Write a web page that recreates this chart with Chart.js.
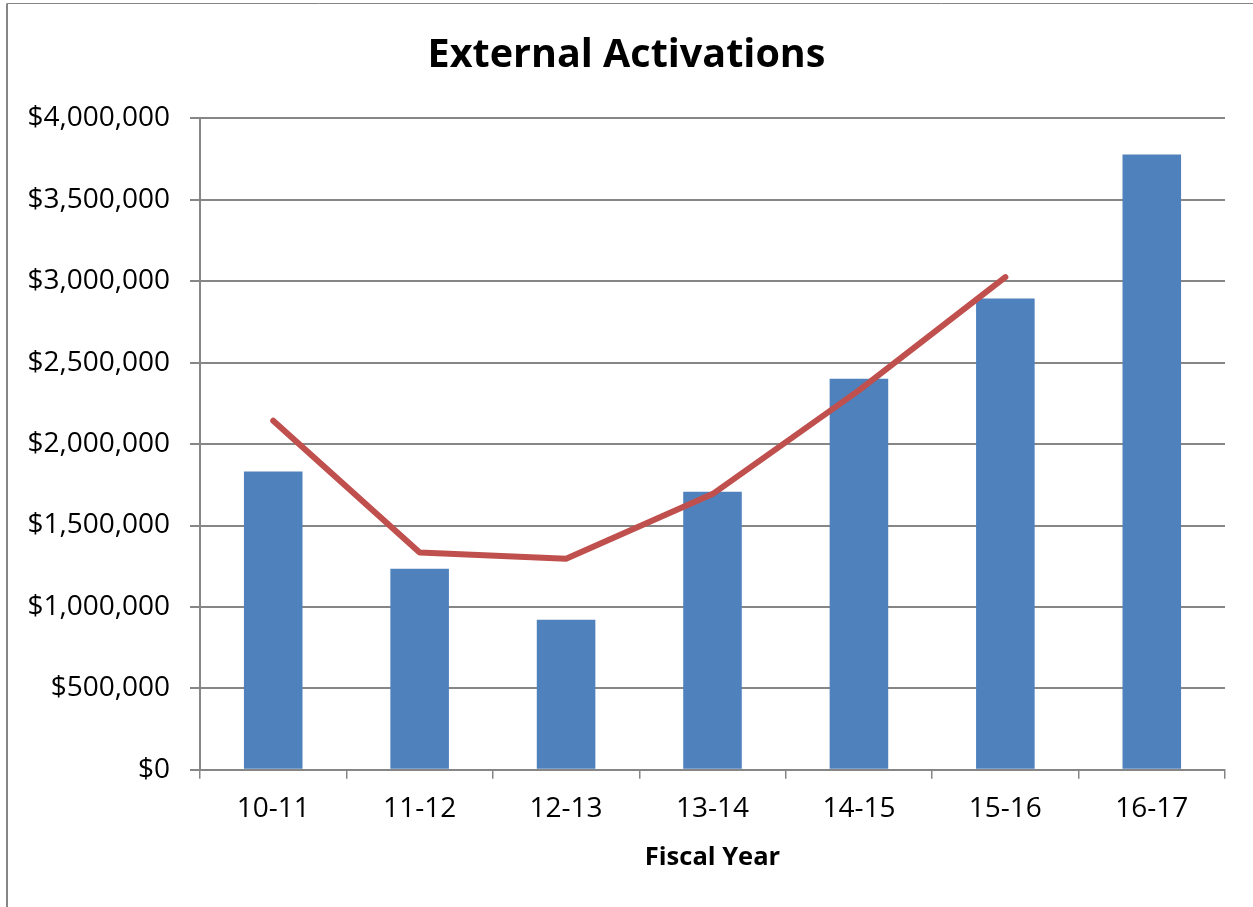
<!DOCTYPE html>
<html>
<head>
<meta charset="utf-8">
<script src="https://cdn.jsdelivr.net/npm/chart.js@4.4.1/dist/chart.umd.min.js"></script>
<style>
  html, body { margin: 0; padding: 0; background: #fff; }
  #wrap { width: 1253px; height: 907px; position: relative; }
</style>
</head>
<body>
<div id="wrap"><canvas id="grafico"></canvas></div>
<script>
// Dados
const anosFiscais = ['10-11', '11-12', '12-13', '13-14', '14-15', '15-16', '16-17'];
const ativacoes = [1831000, 1235000, 922000, 1708000, 2402000, 2894000, 3779000];
const tendencia = [2144000, 1335000, 1296000, 1693000, 2330000, 3025000, null];
const ticksY = [0, 500000, 1000000, 1500000, 2000000, 2500000, 3000000, 3500000, 4000000];

const fonte = "'Open Sans', 'DejaVu Sans', sans-serif";
const cinza = '#868686';

// Moldura do gráfico (apenas esquerda e topo, como no original)
const moldura = {
    id: 'moldura',
    beforeDraw(chart) {
        const ctx = chart.ctx;
        ctx.save();
        ctx.strokeStyle = cinza;
        ctx.lineWidth = 2;
        ctx.beginPath();
        ctx.moveTo(7, chart.height);
        ctx.lineTo(7, 3.5);
        ctx.stroke();
        ctx.lineWidth = 1;
        ctx.beginPath();
        ctx.moveTo(7, 3.5);
        ctx.lineTo(chart.width, 3.5);
        ctx.stroke();
        ctx.restore();
    }
};

const config = {
    type: 'bar',
    data: {
        labels: anosFiscais,
        datasets: [{
            type: 'line',
            label: 'Tendência',
            data: tendencia,
            borderColor: '#C0504D',
            borderWidth: 6,
            borderCapStyle: 'round',
            borderJoinStyle: 'round',
            pointRadius: 0,
            tension: 0,
            fill: false,
            order: 0
        }, {
            type: 'bar',
            label: 'External Activations',
            data: ativacoes,
            backgroundColor: '#4F81BD',
            barPercentage: 0.4,
            categoryPercentage: 1,
            order: 1
        }]
    },
    options: {
        responsive: false,
        animation: false,
        devicePixelRatio: 1,
        layout: { padding: { left: 0, right: 0, top: 0, bottom: 34 } },
        plugins: {
            legend: { display: false },
            tooltip: { enabled: false },
            title: {
                display: true,
                text: 'External Activations',
                color: '#000',
                font: { family: fonte, size: 39.5, weight: 'bold' },
                padding: { top: 32, bottom: 39 }
            }
        },
        scales: {
            x: {
                offset: true,
                grid: {
                    offset: true,
                    drawOnChartArea: false,
                    drawTicks: true,
                    tickLength: 9,
                    color: cinza,
                    lineWidth: 1.5
                },
                border: { color: cinza, width: 2 },
                ticks: {
                    color: '#000',
                    padding: 13,
                    font: { family: fonte, size: 28 }
                },
                title: {
                    display: true,
                    text: 'Fiscal Year',
                    color: '#000',
                    font: { family: fonte, size: 25.5, weight: 'bold' },
                    padding: { top: 4, bottom: 0 }
                }
            },
            y: {
                min: 0,
                max: 4000000,
                afterBuildTicks(scale) {
                    scale.ticks = ticksY.map(v => ({ value: v }));
                },
                afterFit(scale) {
                    scale.width = 200;
                },
                grid: {
                    color: cinza,
                    lineWidth: 2,
                    tickLength: 10
                },
                border: { color: cinza, width: 2 },
                ticks: {
                    color: '#000',
                    padding: 20,
                    font: { family: fonte, size: 28 },
                    callback: v => '$' + Number(v).toLocaleString('en-US')
                }
            },
            // eixo vazio só para reservar a margem direita (título fica centrado na largura toda)
            margemDireita: {
                type: 'linear',
                position: 'right',
                afterFit(scale) {
                    scale.width = 28;
                },
                grid: { display: false },
                border: { display: false },
                ticks: { display: false }
            }
        }
    },
    plugins: [moldura]
};

const canvas = document.getElementById('grafico');
canvas.width = 1253;
canvas.height = 907;
new Chart(canvas.getContext('2d'), config);
</script>
</body>
</html>
